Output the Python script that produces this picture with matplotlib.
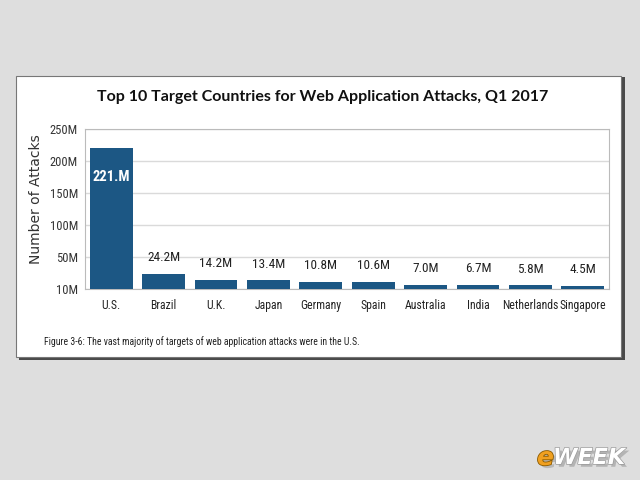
import matplotlib.pyplot as plt
from matplotlib.patches import Rectangle
import matplotlib.patheffects as pe

countries = ['U.S.', 'Brazil', 'U.K.', 'Japan', 'Germany', 'Spain',
             'Australia', 'India', 'Netherlands', 'Singapore']
attacks = [221.0, 24.2, 14.2, 13.4, 10.8, 10.6, 7.0, 6.7, 5.8, 4.5]  # millions
bar_labels = ['221.M', '24.2M', '14.2M', '13.4M', '10.8M', '10.6M',
              '7.0M', '6.7M', '5.8M', '4.5M']
y_ticks = [0, 50, 100, 150, 200, 250]
y_tick_labels = ['10M', '50M', '100M', '150M', '200M', '250M']

narrow = ['Roboto Condensed', 'Open Sans Condensed', 'DejaVu Sans']
bar_color = '#1c5784'

fig = plt.figure(figsize=(6.4, 4.8), dpi=100)
fig.patch.set_facecolor('#dedede')

# white card with dark shadow edge
fig.patches.append(Rectangle((19 / 640, 1 - 360 / 480), 606 / 640, 283 / 480,
                             transform=fig.transFigure, facecolor='#4a4a4a',
                             edgecolor='none', zorder=0))
fig.patches.append(Rectangle((16 / 640, 1 - 357 / 480), 605 / 640, 281 / 480,
                             transform=fig.transFigure, facecolor='white',
                             edgecolor='#777777', linewidth=0.8, zorder=1))

ax = fig.add_axes([85 / 640, 1 - 289 / 480, 524 / 640, 160 / 480])
ax.set_zorder(2)
ax.bar(range(len(countries)), attacks, width=0.82, color=bar_color, zorder=3)
ax.set_xlim(-0.5, len(countries) - 0.5)
ax.set_ylim(0, 250)
ax.set_yticks(y_ticks)
ax.set_yticklabels(y_tick_labels, family=narrow, fontsize=9, color='#333333')
ax.set_xticks(range(len(countries)))
ax.set_xticklabels(countries, family=narrow, fontsize=8.5, color='#222222')
ax.tick_params(axis='y', length=0, pad=5)
ax.tick_params(axis='x', length=0, pad=7)
ax.grid(axis='y', color='#dadada', linewidth=1, zorder=0)
for s in ax.spines.values():
    s.set_color('#bbbbbb')
    s.set_linewidth(0.8)

for i, (v, lab) in enumerate(zip(attacks, bar_labels)):
    if i == 0:
        ax.annotate(lab, (i, v), xytext=(0, -21), textcoords='offset points',
                    ha='center', va='center', color='white', fontsize=10.5,
                    fontweight='bold', family=narrow, zorder=4)
    else:
        ax.annotate(lab, (i, v), xytext=(0, 7), textcoords='offset points',
                    ha='center', va='bottom', fontsize=9.5, family=narrow,
                    color='#222222', zorder=4)

ax.set_ylabel('Number of Attacks', fontsize=10, family='DejaVu Sans', color='#333333')
ax.yaxis.set_label_coords(-0.08, 0.56)

fig.text(0.504, 1 - 97 / 480, 'Top 10 Target Countries for Web Application Attacks, Q1 2017',
         ha='center', va='center', fontsize=11.5, fontweight='bold', family='Lato',
         color='#111111', zorder=5)
fig.text(44 / 640, 1 - 342 / 480,
         'Figure 3-6: The vast majority of targets of web application attacks were in the U.S.',
         ha='left', va='center', fontsize=7, family=narrow, color='#222222', zorder=5)

# eWEEK logo
fig.text(537 / 640, 1 - 458 / 480, 'e', fontsize=18, fontweight='bold',
         style='italic', color='#f0a020', va='center', zorder=6,
         path_effects=[pe.SimplePatchShadow(offset=(2, -2), shadow_rgbFace='#666666'),
                       pe.withStroke(linewidth=1.2, foreground='#8a5a00')])
fig.text(553 / 640, 1 - 458 / 480, 'WEEK', fontsize=16, fontweight='heavy',
         style='italic', color='white', va='center', zorder=6,
         path_effects=[pe.SimplePatchShadow(offset=(2, -2), shadow_rgbFace='#555555'),
                       pe.withStroke(linewidth=1.0, foreground='#999999')])

fig.savefig('out.png', dpi=100, facecolor=fig.get_facecolor())
